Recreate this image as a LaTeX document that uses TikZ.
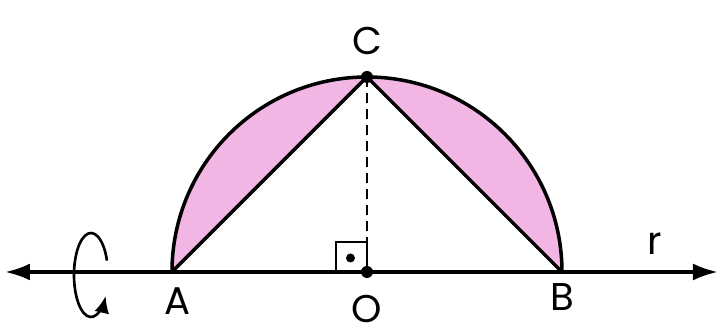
\documentclass[tikz,border=0pt]{standalone}
\usepackage{fontspec}
\setmainfont{Poppins}
\usetikzlibrary{arrows.meta, positioning}
\definecolor{segpink}{RGB}{242,182,228}
\begin{document}
\begin{tikzpicture}[
  axis/.style={{Latex[length=0.5cm,width=0.34cm]}-{Latex[length=0.5cm,width=0.34cm]}, line width=2pt},
  edge/.style={line width=2pt},
  lbl/.style={font=\fontsize{22}{24}\selectfont, inner sep=0pt},
  pt/.style={circle, fill, inner sep=0pt, minimum size=0.24cm}
]
\useasboundingbox (-7.34,-1.04) rectangle (7.08,5.44);
\coordinate (O) at (0,0);
\coordinate (A) at (-3.9,0);
\coordinate (B) at (3.9,0);
\coordinate (C) at (0,3.9);
\coordinate (L) at (-7.24,0);
\coordinate (R) at (7.02,0);
% shaded segments
\fill[segpink] (A) arc (180:90:3.9) -- cycle;
\fill[segpink] (C) arc (90:0:3.9) -- cycle;
\draw[edge] (A) arc (180:0:3.9);
\draw[edge] (A) -- (C) -- (B);
\draw[line width=1.7pt, dash pattern=on 0.2cm off 0.12cm] (C) -- (O);
% right angle mark
\draw[line width=1.6pt] (-0.62,0) rectangle (0,0.6);
\fill (-0.33,0.28) circle (0.09);
\draw[axis] (L) -- (R);
\node[pt] (Cdot) at (C) {};
\node[pt] (Odot) at (O) {};
% rotation
\draw[line width=1.5pt, -{Latex[length=0.34cm,width=0.3cm]}] (-5.52,-0.06) ++(20:0.34 and 0.84) arc[start angle=20, end angle=330, x radius=0.34, y radius=0.84];
\node[lbl] (labC) at (0,4.62) {C};
\node[lbl] (labA) at (-3.78,-0.58) {A};
\node[lbl] (labO) at (0,-0.74) {O};
\node[lbl] (labB) at (3.9,-0.5) {B};
\node[lbl] (labr) at (5.76,0.56) {r};
\end{tikzpicture}
\end{document}
